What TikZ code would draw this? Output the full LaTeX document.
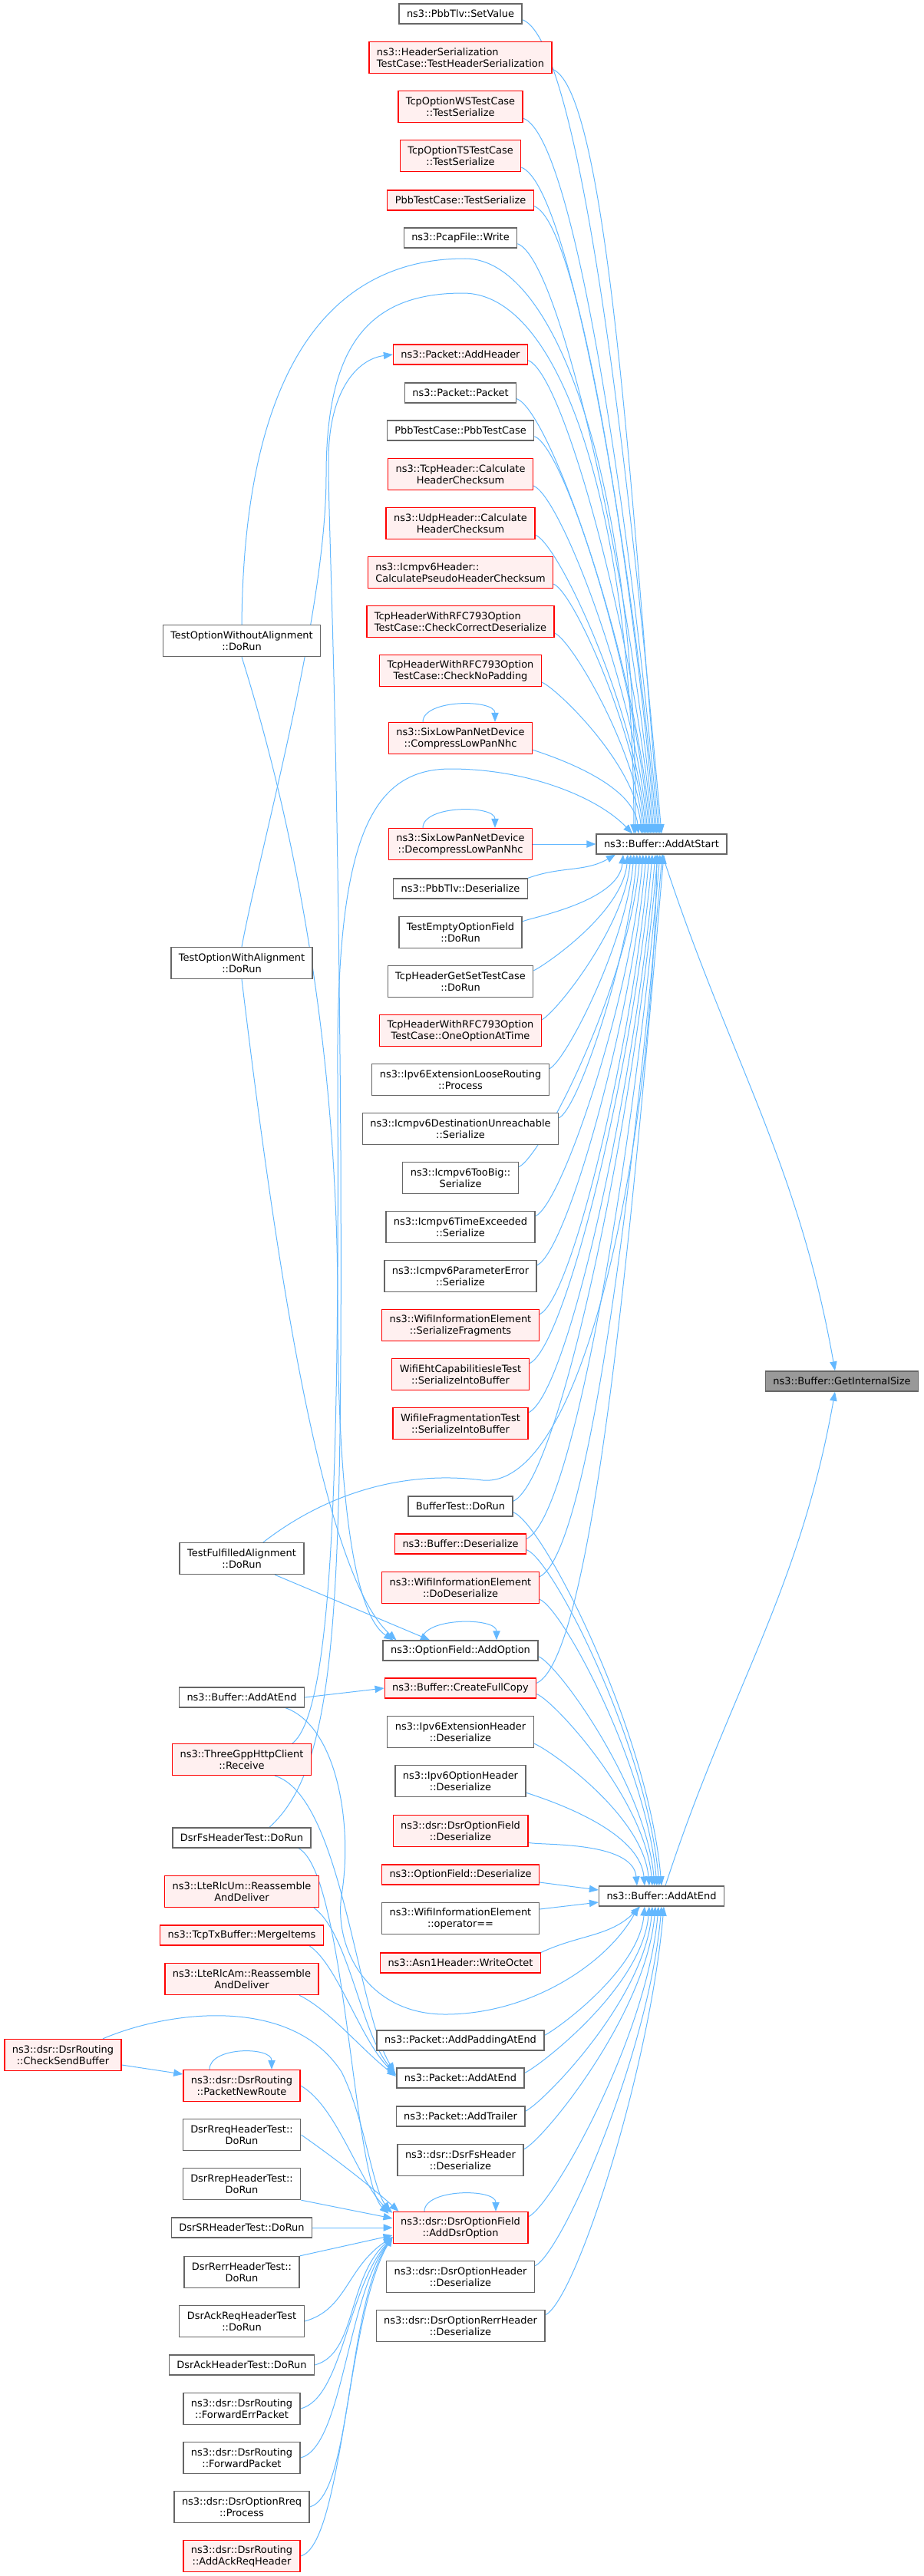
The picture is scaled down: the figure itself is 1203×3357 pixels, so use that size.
\documentclass[tikz,border=0pt]{standalone}
\usepackage{fontspec}
\setmainfont{DejaVu Sans}
\usetikzlibrary{arrows.meta,calc,backgrounds}
\definecolor{callblue}{HTML}{63B8FF}
\definecolor{framegray}{HTML}{666666}
\definecolor{truncfill}{HTML}{FFF0F0}
\definecolor{rootgray}{HTML}{999999}
\tikzset{
        func/.style={draw=framegray, fill=white, line width=1pt, inner xsep=7.5pt, inner ysep=0pt, minimum height=19.5pt, align=center},
        trunc/.style={func, draw=red, fill=truncfill},
        rootfn/.style={func, draw=framegray, fill=rootgray},
        two/.style={minimum height=30.75pt},
        lalign/.style={align=left},
        calls/.style={draw=callblue, line width=0.75pt, -{Triangle[length=9pt,width=7pt]}},
        fromabove/.style={out=-20, in=95, out looseness=0.2},
        frombelow/.style={out=25, in=265, out looseness=0.2}
          }
\begin{document}
\begin{tikzpicture}[x=0.75pt, y=-0.75pt, font=\fontsize{9.7}{11.25}\selectfont]
        \useasboundingbox (0,0) rectangle (1203,3357);
        \node[func] (setvalue) at (600,18) {ns3::PbbTlv::SetValue};
        \node[trunc,two,lalign] (hdrser) at (600,75) {ns3::HeaderSerialization\\TestCase::TestHeaderSerialization};
        \node[trunc,two] (wsser) at (600,139) {TcpOptionWSTestCase\\::TestSerialize};
        \node[trunc,two] (tsser) at (600,203) {TcpOptionTSTestCase\\::TestSerialize};
        \node[trunc] (pbbser) at (600,261) {PbbTestCase::TestSerialize};
        \node[func] (pcapwrite) at (600,310) {ns3::PcapFile::Write};
        \node[trunc] (addheader) at (600,462) {ns3::Packet::AddHeader};
        \node[func] (pktctor) at (600,512) {ns3::Packet::Packet};
        \node[func] (pbbtc) at (600,561) {PbbTestCase::PbbTestCase};
        \node[trunc,two] (tcpcsum) at (600,618) {ns3::TcpHeader::Calculate\\HeaderChecksum};
        \node[trunc,two] (udpcsum) at (600,682) {ns3::UdpHeader::Calculate\\HeaderChecksum};
        \node[trunc,two,lalign] (icmpcsum) at (600,746) {ns3::Icmpv6Header::\\CalculatePseudoHeaderChecksum};
        \node[trunc,two,lalign] (rfccorrect) at (600,810) {TcpHeaderWithRFC793Option\\TestCase::CheckCorrectDeserialize};
        \node[trunc,two] (rfcnopad) at (600,874) {TcpHeaderWithRFC793Option\\TestCase::CheckNoPadding};
        \node[trunc,two] (compress) at (600,962) {ns3::SixLowPanNetDevice\\::CompressLowPanNhc};
        \node[trunc,two] (decompress) at (600,1100) {ns3::SixLowPanNetDevice\\::DecompressLowPanNhc};
        \node[func] (pbbtlvdes) at (600,1158) {ns3::PbbTlv::Deserialize};
        \node[func,two] (emptyopt) at (600,1215) {TestEmptyOptionField\\::DoRun};
        \node[func,two] (tcpgetset) at (600,1279) {TcpHeaderGetSetTestCase\\::DoRun};
        \node[trunc,two] (rfconeopt) at (600,1343) {TcpHeaderWithRFC793Option\\TestCase::OneOptionAtTime};
        \node[func,two] (looserouting) at (600,1407) {ns3::Ipv6ExtensionLooseRouting\\::Process};
        \node[func,two] (destunreach) at (600,1471) {ns3::Icmpv6DestinationUnreachable\\::Serialize};
        \node[func,two] (toobig) at (600,1535) {ns3::Icmpv6TooBig::\\Serialize};
        \node[func,two] (timeexceeded) at (600,1599) {ns3::Icmpv6TimeExceeded\\::Serialize};
        \node[func,two] (paramerror) at (600,1663) {ns3::Icmpv6ParameterError\\::Serialize};
        \node[trunc,two] (wifiserfrag) at (600,1727) {ns3::WifiInformationElement\\::SerializeFragments};
        \node[trunc,two] (wifieht) at (600,1791) {WifiEhtCapabilitiesIeTest\\::SerializeIntoBuffer};
        \node[trunc,two] (wifiiefrag) at (600,1855) {WifiIeFragmentationTest\\::SerializeIntoBuffer};
        \node[func] (buftest) at (600,1963) {BufferTest::DoRun};
        \node[trunc] (bufdes) at (600,2012) {ns3::Buffer::Deserialize};
        \node[trunc,two] (wifidodes) at (600,2069) {ns3::WifiInformationElement\\::DoDeserialize};
        \node[func] (addopt) at (600,2151) {ns3::OptionField::AddOption};
        \node[trunc] (fullcopy) at (600,2200) {ns3::Buffer::CreateFullCopy};
        \node[func,two] (ipv6exthdr) at (600,2257) {ns3::Ipv6ExtensionHeader\\::Deserialize};
        \node[func,two] (ipv6opthdr) at (600,2321) {ns3::Ipv6OptionHeader\\::Deserialize};
        \node[trunc,two] (dsrfielddes) at (600,2386) {ns3::dsr::DsrOptionField\\::Deserialize};
        \node[trunc] (optfielddes) at (600,2443) {ns3::OptionField::Deserialize};
        \node[func,two] (wifieq) at (600,2500) {ns3::WifiInformationElement\\::operator==};
        \node[trunc] (writeoctet) at (600,2558) {ns3::Asn1Header::WriteOctet};
        \node[func] (addpadding) at (600,2659) {ns3::Packet::AddPaddingAtEnd};
        \node[func] (pktaddatend) at (600,2708) {ns3::Packet::AddAtEnd};
        \node[func] (addtrailer) at (600,2758) {ns3::Packet::AddTrailer};
        \node[func,two] (dsrfshdr) at (600,2815) {ns3::dsr::DsrFsHeader\\::Deserialize};
        \node[trunc,two] (adddsropt) at (600,2903) {ns3::dsr::DsrOptionField\\::AddDsrOption};
        \node[func,two] (dsrophdr) at (600,2967) {ns3::dsr::DsrOptionHeader\\::Deserialize};
        \node[func,two] (dsrrerrhdr) at (600,3031) {ns3::dsr::DsrOptionRerrHeader\\::Deserialize};
        \node[func,two] (optnoalign) at (315,835) {TestOptionWithoutAlignment\\::DoRun};
        \node[func,two] (optalign) at (315,1255) {TestOptionWithAlignment\\::DoRun};
        \node[func,two] (optfulfilled) at (315,2031) {TestFulfilledAlignment\\::DoRun};
        \node[func] (bufaddatendb) at (315,2212) {ns3::Buffer::AddAtEnd};
        \node[trunc,two] (httprecv) at (315,2293) {ns3::ThreeGppHttpClient\\::Receive};
        \node[func] (dsrfstest) at (315,2395) {DsrFsHeaderTest::DoRun};
        \node[trunc,two] (lterlcum) at (315,2465) {ns3::LteRlcUm::Reassemble\\AndDeliver};
        \node[trunc] (mergeitems) at (315,2522) {ns3::TcpTxBuffer::MergeItems};
        \node[trunc,two] (lterlcam) at (315,2579) {ns3::LteRlcAm::Reassemble\\AndDeliver};
        \node[trunc,two] (checksend) at (82,2678) {ns3::dsr::DsrRouting\\::CheckSendBuffer};
        \node[trunc,two] (newroute) at (315,2718) {ns3::dsr::DsrRouting\\::PacketNewRoute};
        \node[func,two] (rreqtest) at (315,2782) {DsrRreqHeaderTest::\\DoRun};
        \node[func,two] (reptest) at (315,2846) {DsrRrepHeaderTest::\\DoRun};
        \node[func] (srtest) at (315,2903) {DsrSRHeaderTest::DoRun};
        \node[func,two] (rerrtest) at (315,2961) {DsrRerrHeaderTest::\\DoRun};
        \node[func,two] (ackreqtest) at (315,3025) {DsrAckReqHeaderTest\\::DoRun};
        \node[func] (acktest) at (315,3082) {DsrAckHeaderTest::DoRun};
        \node[func,two] (fwderr) at (315,3139) {ns3::dsr::DsrRouting\\::ForwardErrPacket};
        \node[func,two] (fwdpkt) at (315,3203) {ns3::dsr::DsrRouting\\::ForwardPacket};
        \node[func,two] (rreqproc) at (315,3267) {ns3::dsr::DsrOptionRreq\\::Process};
        \node[trunc,two] (addackreq) at (315,3331) {ns3::dsr::DsrRouting\\::AddAckReqHeader};
        \node[func] (addatstart) at (862,1100) {ns3::Buffer::AddAtStart};
        \node[func] (addatend) at (862,2471) {ns3::Buffer::AddAtEnd};
        \node[rootfn] (getsize) at (1097,1800) {ns3::Buffer::GetInternalSize};
        \begin{scope}[on background layer]
        \foreach \n/\dx in {setvalue/0, hdrser/-2, wsser/-4, tsser/-6, pbbser/-8, pcapwrite/-10, addheader/-12, pktctor/-14, pbbtc/-16, tcpcsum/-18, udpcsum/-20, icmpcsum/-22, rfccorrect/-24, rfcnopad/-26, compress/-30}
          \draw[calls] ($(\n.south east)+(0,-6)$) to[fromabove] ($(addatstart.north)+(\dx,0)$);
        \foreach \n/\dx in {emptyopt/-50, tcpgetset/-44, rfconeopt/-40, looserouting/-36, destunreach/-32, toobig/-28, timeexceeded/-24, paramerror/-20, wifiserfrag/-16, wifieht/-12, wifiiefrag/-8, buftest/-5, bufdes/-2, wifidodes/1, fullcopy/3}
          \draw[calls] ($(\n.north east)+(0,7)$) to[frombelow] ($(addatstart.south)+(\dx,0)$);
        \foreach \n/\dx in {buftest/0, bufdes/-3, wifidodes/-6, addopt/-9, fullcopy/-12, ipv6exthdr/-16, ipv6opthdr/-22, dsrfielddes/-32}
          \draw[calls] ($(\n.south east)+(0,-6)$) to[fromabove] ($(addatend.north)+(\dx,0)$);
        \foreach \n/\dx in {addpadding/-22, pktaddatend/-16, addtrailer/-12, dsrfshdr/-8, adddsropt/-4, dsrophdr/0, dsrrerrhdr/3}
          \draw[calls] ($(\n.north east)+(0,7)$) to[frombelow] ($(addatend.south)+(\dx,0)$);
        \foreach \n/\a/\b in {compress/-49/45, decompress/-49/45, addopt/-50/47, adddsropt/-47/46, newroute/-42/39}
          \draw[calls] ($(\n.north)+(\a,0)$) .. controls +(0,-30) and +(0,-30) .. ($(\n.north)+(\b,0)$);
        \draw[calls] (decompress.east) -- (addatstart.west);
        \draw[calls] (pbbtlvdes.north east) to[out=20,in=210] ($(addatstart.south)+(-60,0)$);
        \draw[calls] ($(optfielddes.east)+(0,10)$) -- ($(addatend.west)+(0,-8)$);
        \draw[calls] ($(wifieq.east)+(0,-12)$) -- ($(addatend.west)+(0,8)$);
        \draw[calls] (writeoctet.north east) to[out=25,in=225] ($(addatend.south)+(-28,0)$);
        \draw[calls] ($(addatstart.south)+(1,0)$) to[out=-72,in=100] ($(getsize.north)+(-9,0)$);
        \draw[calls] ($(addatend.north)+(5,0)$) to[out=72,in=-100] ($(getsize.south)+(-9,0)$);
        \draw[calls] (optnoalign.north) .. controls (318,480) and (430,337) .. (606,337) .. controls (730,337) and (830,650) .. ($(addatstart.north)+(-34,0)$);
        \draw[calls] (optalign.north) .. controls (340,1100) and (425,800) .. (425,620) .. controls (425,450) and (480,382) .. (603,382) .. controls (740,382) and (825,700) .. ($(addatstart.north)+(-36,0)$);
        \draw[calls] ($(httprecv.north)+(66,0)$) .. controls (435,2230) and (442,1900) .. (440,1400) .. controls (438,1100) and (480,1002) .. (587,1002) .. controls (690,1002) and (780,1040) .. ($(addatstart.north)+(-38,0)$);
        \draw[calls] ($(dsrfstest.north)+(36,0)$) .. controls (440,2300) and (446,2100) .. (444,1500) .. controls (440,900) and (428,700) .. (428,600) .. controls (428,510) and (465,468) .. (addheader.west);
        \draw[calls] ($(optfulfilled.north)+(28,0)$) .. controls (420,1950) and (520,1915) .. (629,1929) .. controls (760,1940) and (850,1500) .. ($(addatstart.south)+(-6,0)$);
        \draw[calls] (optnoalign.south) .. controls (360,1000) and (440,1300) .. (440,1700) .. controls (440,2000) and (470,2110) .. ($(addopt.north west)+(14,0)$);
        \draw[calls] (optalign.south) .. controls (360,1650) and (420,2050) .. ($(addopt.north west)+(18,0)$);
        \draw[calls] ($(optfulfilled.south)+(43,0)$) -- ($(addopt.north)+(-40,0)$);
        \draw[calls] (bufaddatendb.east) -- (fullcopy.west);
        \draw[calls] ($(bufaddatendb.south)+(57,0)$) .. controls (440,2250) and (460,2380) .. (445,2470) .. controls (435,2540) and (480,2625) .. (580,2625) .. controls (690,2625) and (790,2560) .. ($(addatend.south)+(-30,0)$);
        \draw[calls] ($(httprecv.south)+(43,0)$) .. controls (445,2340) and (465,2620) .. ($(pktaddatend.west)+(-2,-8)$);
        \draw[calls] ($(lterlcum.south)+(94,0)$) .. controls (455,2520) and (470,2650) .. ($(pktaddatend.west)+(-1,-6)$);
        \draw[calls] ($(mergeitems.south)+(88,0)$) .. controls (440,2560) and (470,2660) .. ($(pktaddatend.west)+(0,-4)$);
        \draw[calls] ($(lterlcam.south)+(75,0)$) .. controls (430,2620) and (470,2670) .. ($(pktaddatend.west)+(0,-2)$);
        \draw[calls] ($(checksend.east)+(0,13)$) -- ($(newroute.west)+(0,-15)$);
        \draw[calls] ($(checksend.north)+(52,0)$) .. controls (220,2620) and (380,2600) .. (445,2700) .. controls (475,2760) and (485,2850) .. ($(adddsropt.north west)+(-3,0)$);
        \draw[calls] (newroute.east) .. controls (440,2745) and (470,2850) .. ($(adddsropt.north west)+(0,2)$);
        \draw[calls] (rreqtest.east) .. controls (440,2815) and (490,2855) .. ($(adddsropt.north west)+(8,0)$);
        \draw[calls] ($(dsrfstest.south)+(74,0)$) .. controls (450,2440) and (460,2840) .. ($(adddsropt.north west)+(-5,3)$);
        \draw[calls] (reptest.south east) -- ($(adddsropt.west)+(0,-12)$);
        \draw[calls] (srtest.east) -- (adddsropt.west);
        \draw[calls] (rerrtest.north east) -- ($(adddsropt.west)+(0,10)$);
        \foreach \n/\k in {ackreqtest/40, acktest/55, fwderr/70, fwdpkt/80, rreqproc/90, addackreq/100}
          \draw[calls] (\n.east) .. controls +(55,-15) and +(-60,\k) .. ($(adddsropt.west)+(0,12)$);
        \end{scope}
\end{tikzpicture}
\end{document}
